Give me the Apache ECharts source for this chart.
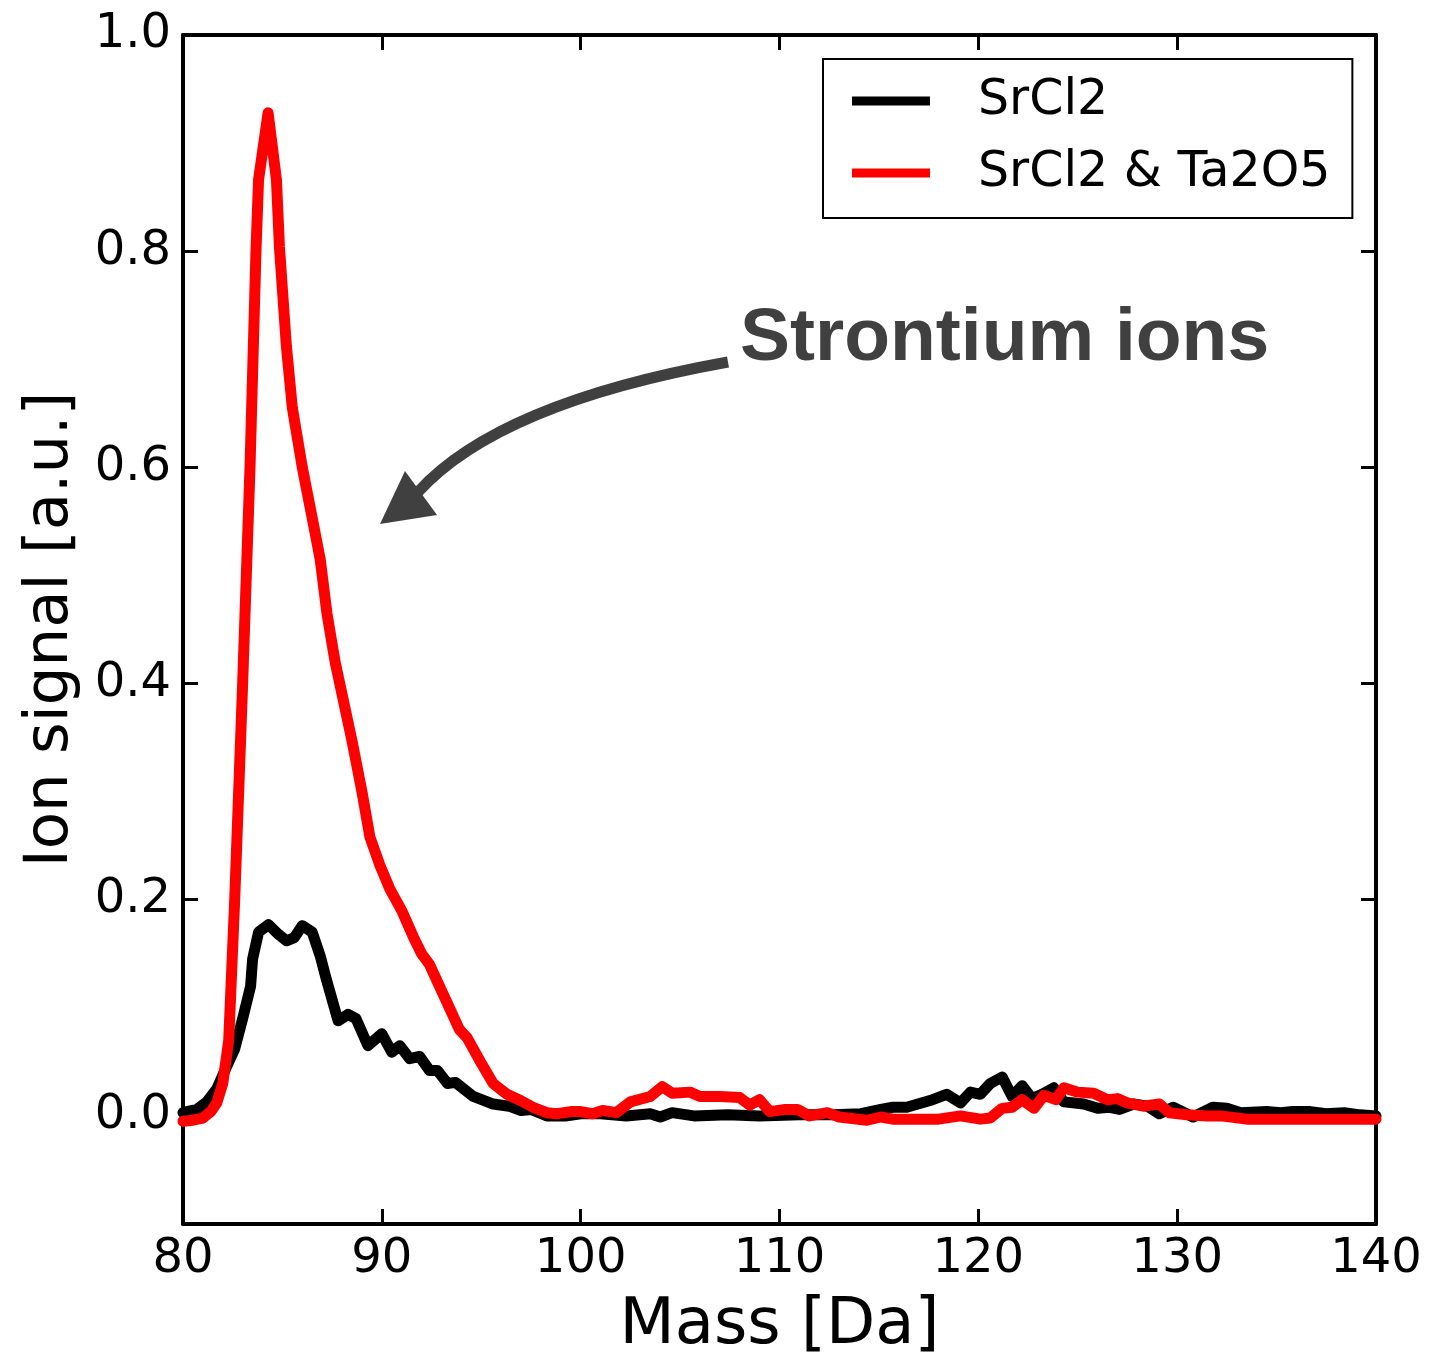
<!DOCTYPE html>
<html>
<head>
<meta charset="utf-8">
<script src="https://cdn.jsdelivr.net/npm/echarts@6/dist/echarts.min.js"></script>
<style>
html,body{margin:0;padding:0;background:#fff;}
#chart{width:1430px;height:1358px;}
</style>
</head>
<body>
<div id="chart"></div>
<script>
// ---- data ----
const seriesNames = ['SrCl2', 'SrCl2 & Ta2O5'];

const massSrCl2 = [80.0,80.2,80.7,81.2,81.7,82.2,82.6,83.0,83.4,83.5,83.8,84.3,84.8,85.2,85.6,86.0,86.5,86.9,87.2,87.8,88.3,88.7,89.3,90.0,90.5,90.9,91.4,91.9,92.4,92.8,93.3,93.7,94.6,95.6,96.4,97.0,97.5,98.3,99.3,100.0,101.0,102.3,103.5,104.0,104.6,105.7,107.4,109.0,111.0,112.7,114.1,115.1,115.7,116.4,117.7,118.4,119.1,119.6,120.1,120.6,121.2,121.7,122.2,122.7,123.2,123.8,124.3,125.3,126.0,126.6,127.1,127.8,128.5,129.1,129.8,130.8,131.8,132.5,133.2,134.5,135.2,135.8,136.7,137.5,138.4,139.2,140.0];
const signalSrCl2 = [0.003,0.004,0.006,0.013,0.025,0.046,0.062,0.09,0.12,0.145,0.17,0.177,0.168,0.162,0.165,0.176,0.17,0.148,0.127,0.088,0.094,0.09,0.065,0.076,0.059,0.065,0.053,0.055,0.042,0.042,0.03,0.031,0.018,0.011,0.009,0.005,0.006,0.0,0.0,0.002,0.002,0.0,0.002,-0.001,0.003,0.0,0.001,0.0,0.001,0.001,0.002,0.006,0.008,0.008,0.015,0.02,0.012,0.022,0.02,0.03,0.036,0.018,0.028,0.016,0.02,0.026,0.013,0.011,0.007,0.008,0.006,0.011,0.009,0.002,0.008,-0.001,0.008,0.007,0.003,0.004,0.003,0.004,0.004,0.002,0.003,0.001,0.0];

const massMix = [80.0,80.5,81.0,81.4,81.7,82.0,82.3,82.6,83.0,83.37,83.67,83.8,84.28,84.7,84.85,85.2,85.5,86.0,86.5,86.9,87.24,87.65,88.0,88.5,89.0,89.4,89.9,90.4,91.0,91.6,92.0,92.4,93.1,93.9,94.3,94.9,95.6,96.3,97.0,97.6,98.3,98.8,99.5,100.0,100.6,101.1,101.8,102.5,103.5,104.1,104.6,105.5,106.0,107.0,108.0,108.5,109.0,109.5,110.3,110.9,111.5,112.4,113.0,114.4,115.1,115.7,117.1,118.0,119.1,120.1,120.6,121.2,121.7,122.2,122.8,123.3,123.9,124.3,125.0,125.8,126.5,127.0,127.5,128.3,129.1,129.6,130.5,131.5,132.2,133.5,135.8,137.5,139.2,140.0];
const signalMix = [-0.005,-0.004,-0.002,0.004,0.012,0.03,0.07,0.2,0.4,0.6,0.8,0.866,0.928,0.866,0.804,0.712,0.655,0.6,0.553,0.515,0.465,0.42,0.39,0.347,0.3,0.258,0.232,0.21,0.19,0.165,0.15,0.14,0.112,0.08,0.072,0.052,0.03,0.02,0.014,0.008,0.003,0.002,0.004,0.004,0.002,0.005,0.003,0.013,0.018,0.027,0.021,0.022,0.018,0.018,0.017,0.01,0.015,0.004,0.006,0.006,0.0,0.003,-0.001,-0.004,-0.001,-0.003,-0.003,-0.003,0.0,-0.003,-0.002,0.007,0.008,0.015,0.007,0.019,0.015,0.026,0.022,0.021,0.015,0.016,0.012,0.009,0.011,0.003,0.001,0.0,0.0,-0.003,-0.003,-0.003,-0.003,-0.003];

const xTicks = [80, 90, 100, 110, 120, 130, 140];
const yTicks = [0.0, 0.2, 0.4, 0.6, 0.8, 1.0];

const annotationText = 'Strontium ions';
// -----------------------------------------------

function pairs(xs, ys) { return xs.map((x, i) => [x, ys[i]]); }

const FONT = 'DejaVu Sans';
const axisLineStyle = { color: '#000', width: 4 };
const tickStyle = { color: '#000', width: 3 };

const chart = echarts.init(document.getElementById('chart'), null, { renderer: 'canvas' });

const option = {
  backgroundColor: '#fff',
  animation: false,
  grid: { left: 183, right: 54, top: 35, bottom: 134, containLabel: false, outerBoundsMode: 'none' },
  legend: {
    orient: 'vertical',
    left: 823,
    top: 59,
    padding: [14, 22, 17, 29],
    itemGap: 16,
    itemWidth: 78,
    itemHeight: 9,
    icon: 'rect',
    borderColor: '#000',
    borderWidth: 2,
    borderRadius: 0,
    backgroundColor: '#fff',
    data: seriesNames.map(n => ({ name: n, icon: 'rect' })),
    textStyle: { fontFamily: FONT, fontSize: 49, color: '#000', lineHeight: 56, padding: [0, 0, 0, 43] }
  },
  xAxis: [
    {
      type: 'value', min: 80, max: 140, interval: 10, position: 'bottom',
      name: 'Mass [Da]', nameLocation: 'middle', nameGap: 70,
      nameTextStyle: { fontFamily: FONT, fontSize: 64, color: '#000' },
      axisLine: { show: true, onZero: false, lineStyle: axisLineStyle },
      axisTick: { show: true, inside: true, length: 15, lineStyle: tickStyle, customValues: xTicks },
      axisLabel: { fontFamily: FONT, fontSize: 48, color: '#000', margin: 12, customValues: xTicks },
      splitLine: { show: false }
    },
    {
      type: 'value', min: 80, max: 140, interval: 10, position: 'top',
      axisLine: { show: true, onZero: false, lineStyle: axisLineStyle },
      axisTick: { show: true, inside: true, length: 15, lineStyle: tickStyle },
      axisLabel: { show: false },
      splitLine: { show: false }
    }
  ],
  yAxis: [
    {
      type: 'value', min: -0.1, max: 1.0, position: 'left',
      name: 'Ion signal [a.u.]', nameLocation: 'middle', nameGap: 101,
      nameTextStyle: { fontFamily: FONT, fontSize: 61, color: '#000' },
      axisLine: { show: true, onZero: false, lineStyle: axisLineStyle },
      axisTick: { show: true, inside: true, length: 15, lineStyle: tickStyle, customValues: yTicks },
      axisLabel: { fontFamily: FONT, fontSize: 48, color: '#000', margin: 12,
        customValues: yTicks, formatter: v => v.toFixed(1) },
      splitLine: { show: false }
    },
    {
      type: 'value', min: -0.1, max: 1.0, position: 'right',
      axisLine: { show: true, onZero: false, lineStyle: axisLineStyle },
      axisTick: { show: true, inside: true, length: 15, lineStyle: tickStyle, customValues: yTicks },
      axisLabel: { show: false },
      splitLine: { show: false }
    }
  ],
  series: [
    {
      name: seriesNames[0], type: 'line', xAxisIndex: 0, yAxisIndex: 0,
      data: pairs(massSrCl2, signalSrCl2),
      showSymbol: false, symbol: 'none',
      lineStyle: { color: '#000', width: 11, join: 'round', cap: 'round' },
      itemStyle: { color: '#000' },
      clip: true, z: 2
    },
    {
      name: seriesNames[1], type: 'line', xAxisIndex: 0, yAxisIndex: 0,
      data: pairs(massMix, signalMix),
      showSymbol: false, symbol: 'none',
      lineStyle: { color: '#ff0000', width: 11, join: 'round', cap: 'round' },
      itemStyle: { color: '#ff0000' },
      clip: true, z: 3
    }
  ],
  graphic: [
    {
      type: 'text', left: 740, top: 302, z: 10,
      style: { text: annotationText, fontFamily: 'Liberation Sans', fontWeight: 'bold', fontSize: 75, fill: '#404040' }
    },
    {
      type: 'bezierCurve', z: 10,
      shape: { x1: 728, y1: 362, cpx1: 499, cpy1: 403, x2: 418, y2: 492 },
      style: { stroke: '#404040', lineWidth: 11, fill: 'none' }
    },
    {
      type: 'polygon', z: 10,
      shape: { points: [[380, 524], [405, 471], [437, 515]] },
      style: { fill: '#404040' }
    }
  ]
};

chart.setOption(option);
</script>
</body>
</html>
